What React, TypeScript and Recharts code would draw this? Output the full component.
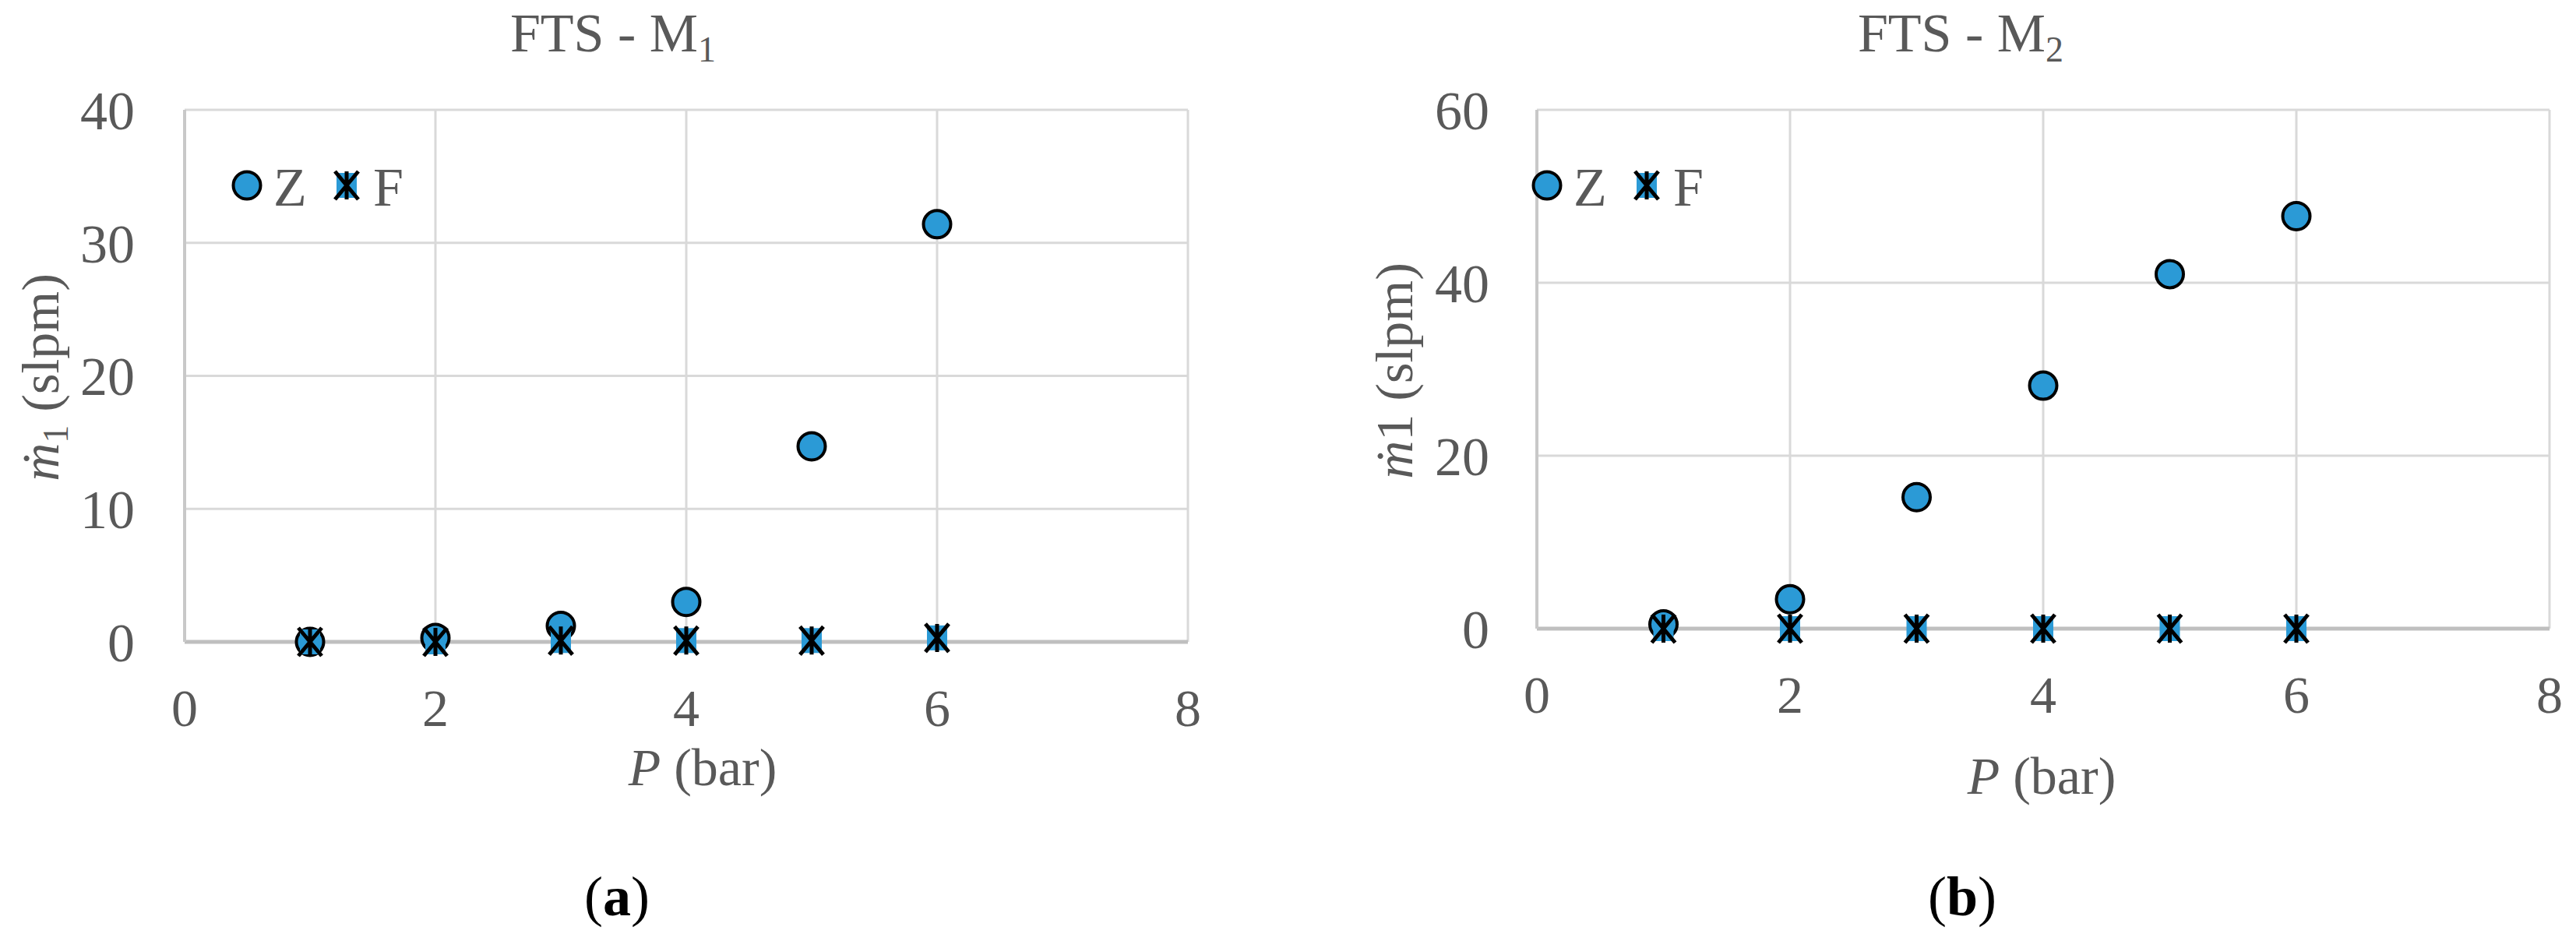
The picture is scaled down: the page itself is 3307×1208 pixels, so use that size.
import { ScatterChart, Scatter, XAxis, YAxis, CartesianGrid, Legend } from "recharts";

// P (bar)
const pressure = [1, 2, 3, 4, 5, 6];
// FTS - M1
const zM1 = [0.0, 0.3, 1.2, 3.0, 14.7, 31.4];
const fM1 = [0.0, 0.0, 0.1, 0.1, 0.1, 0.3];
// FTS - M2
const zM2 = [0.5, 3.4, 15.2, 28.1, 41.0, 47.7];
const fM2 = [0.0, 0.0, 0.0, 0.0, 0.0, 0.0];

const seriesNames = ["Z", "F"];
const xTicks = [0, 2, 4, 6, 8];
const yTicksM1 = [0, 10, 20, 30, 40];
const yTicksM2 = [0, 20, 40, 60];

const FONT = '"Liberation Serif", "Times New Roman", serif';
const GREY = "#595959";
const BLUE = "#2b9ad6";

const toPoints = (ys: number[]) => pressure.map((x, i) => ({ x, y: ys[i] }));

function CircleMark({ cx, cy }: any) {
  if (cx == null || cy == null) return null;
  return <circle cx={cx} cy={cy} r={17.5} fill={BLUE} stroke="#000" strokeWidth={4} />;
}

function StarMark({ cx, cy }: any) {
  if (cx == null || cy == null) return null;
  const w = 15, h = 18;
  return (
    <g>
      <rect x={cx - w + 2} y={cy - h + 2} width={2 * w - 4} height={2 * h - 4} fill={BLUE} />
      <path
        d={`M${cx - w},${cy - h}L${cx + w},${cy + h}M${cx + w},${cy - h}L${cx - w},${cy + h}M${cx},${cy - h}L${cx},${cy + h}`}
        stroke="#000" strokeWidth={5} fill="none" />
    </g>
  );
}

function MarkerLegend({ payload }: any) {
  // keep the series order (Z first), recharts sorts legend items by name
  const items = [...(payload || [])].sort(
    (a: any, b: any) => seriesNames.indexOf(a.value) - seriesNames.indexOf(b.value)
  );
  return (
    <svg width={240} height={70} style={{ overflow: "visible" }}>
      {items.map((entry: any, i: number) => {
        const cx = 20 + 128 * i;
        return (
          <g key={i}>
            {entry.type === "star" ? <StarMark cx={cx} cy={30} /> : <CircleMark cx={cx} cy={30} />}
            <text x={cx + 34} y={56} fontSize={70} fontFamily={FONT} fill={GREY}>{entry.value}</text>
          </g>
        );
      })}
    </svg>
  );
}

type PanelProps = {
  width: number;
  yMax: number;
  yTicks: number[];
  z: number[];
  f: number[];
  axisWidth: number;
  yTickGap: number;
  plotRight: number;
  plotBottom: number;
  xLabelDx: number;
  xLabelDy: number;
  yLabelX: number;
  subscript: boolean;
  legendLeft: number;
};

function Panel(p: PanelProps) {
  const xAxisHeight = 220;
  return (
    <ScatterChart
      width={p.width}
      height={1208}
      margin={{ top: 141, left: 0, right: p.width - p.plotRight, bottom: 1208 - p.plotBottom - xAxisHeight }}
    >
      <CartesianGrid stroke="#d9d9d9" strokeWidth={3} />
      <XAxis
        type="number"
        dataKey="x"
        domain={[0, 8]}
        ticks={xTicks}
        interval={0}
        height={xAxisHeight}
        tickLine={false}
        tickSize={0}
        tickMargin={60}
        axisLine={{ stroke: "#bfbfbf", strokeWidth: 5 }}
        tick={{ fill: GREY, fontSize: 68, fontFamily: FONT }}
        label={(lp: any) => {
          const vb = lp.viewBox || {};
          const cx = (vb.x ?? p.axisWidth) + (vb.width ?? p.plotRight - p.axisWidth) / 2 + p.xLabelDx;
          const y = (vb.y ?? p.plotBottom) + p.xLabelDy;
          return (
            <text x={cx} y={y} textAnchor="middle" fontSize={68} fontFamily={FONT} fill={GREY}>
              <tspan fontStyle="italic">P</tspan> (bar)
            </text>
          );
        }}
      />
      <YAxis
        type="number"
        dataKey="y"
        domain={[0, p.yMax]}
        ticks={p.yTicks}
        interval={0}
        width={p.axisWidth}
        tickLine={false}
        tickSize={0}
        tickMargin={p.yTickGap}
        axisLine={{ stroke: "#c8c8c8", strokeWidth: 4 }}
        tick={{ fill: GREY, fontSize: 70, fontFamily: FONT }}
        label={(lp: any) => {
          const vb = lp.viewBox || {};
          const cy = (vb.y ?? 141) + (vb.height ?? p.plotBottom - 141) / 2 + 2;
          const cx = p.yLabelX;
          return (
            <text x={cx} y={cy} dy="0.35em" textAnchor="middle" transform={`rotate(-90, ${cx}, ${cy})`}
              fontSize={68} fontFamily={FONT} fill={GREY}>
              <tspan fontStyle="italic">ṁ</tspan>
              {p.subscript ? (
                <>
                  <tspan fontSize={46} dy={12}>1</tspan>
                  <tspan dy={-12}> (slpm)</tspan>
                </>
              ) : (
                <tspan>1 (slpm)</tspan>
              )}
            </text>
          );
        }}
      />
      <Legend
        content={<MarkerLegend />}
        layout="horizontal"
        verticalAlign="middle"
        align="center"
        wrapperStyle={{ left: p.legendLeft, top: 208, width: 240, height: 70 }}
      />
      <Scatter name="Z" data={toPoints(p.z)} legendType="circle" isAnimationActive={false}
        shape={(sp: any) => <CircleMark {...sp} />} />
      <Scatter name="F" data={toPoints(p.f)} legendType="star" isAnimationActive={false}
        shape={(sp: any) => <StarMark {...sp} />} />
    </ScatterChart>
  );
}

export default function App() {
  return (
    <div style={{ position: "absolute", left: 0, top: 0, width: 3307, height: 1208, background: "#fff", fontFamily: FONT }}>
      <div style={{ position: "absolute", left: 0, top: 0 }}>
        <Panel width={1650} yMax={40} yTicks={yTicksM1} z={zM1} f={fM1}
          axisWidth={237} yTickGap={64} plotRight={1525} plotBottom={824}
          xLabelDx={21} xLabelDy={184} yLabelX={51} subscript={true} legendLeft={297} />
      </div>
      <div style={{ position: "absolute", left: 1650, top: 0 }}>
        <Panel width={1657} yMax={60} yTicks={yTicksM2} z={zM2} f={fM2}
          axisWidth={323} yTickGap={61} plotRight={1623} plotBottom={807}
          xLabelDx={-2} xLabelDy={212} yLabelX={139} subscript={false} legendLeft={316} />
      </div>
      <svg width={3307} height={1208} style={{ position: "absolute", left: 0, top: 0, pointerEvents: "none" }}>
        <text x={787} y={66} textAnchor="middle" fontSize={70} fontFamily={FONT} fill={GREY}>
          FTS - M<tspan fontSize={46} dy={13}>1</tspan>
        </text>
        <text x={2517} y={66} textAnchor="middle" fontSize={70} fontFamily={FONT} fill={GREY}>
          FTS - M<tspan fontSize={46} dy={13}>2</tspan>
        </text>
        <text x={792} y={1175} textAnchor="middle" fontSize={72} fontFamily={FONT} fill="#000">
          (<tspan fontWeight="bold">a</tspan>)
        </text>
        <text x={2519} y={1175} textAnchor="middle" fontSize={72} fontFamily={FONT} fill="#000">
          (<tspan fontWeight="bold">b</tspan>)
        </text>
      </svg>
    </div>
  );
}
